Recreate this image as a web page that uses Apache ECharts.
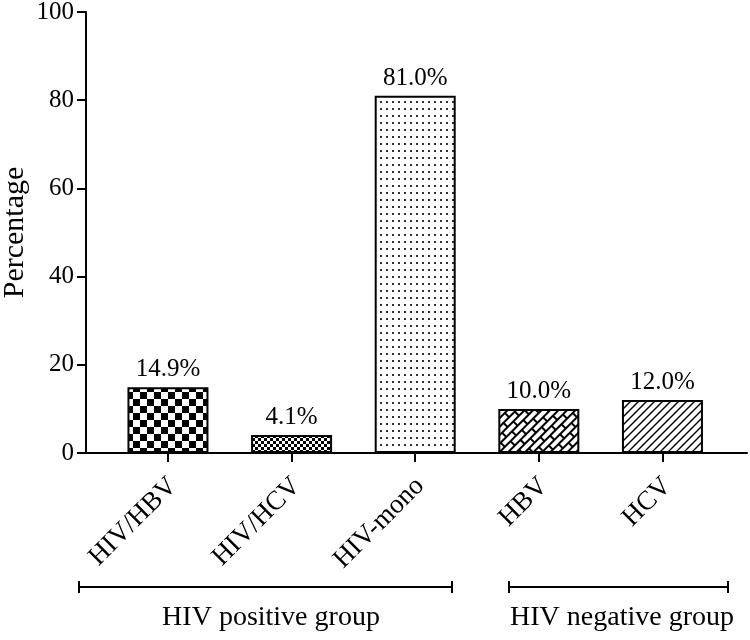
<!DOCTYPE html>
<html>
<head>
<meta charset="utf-8">
<script src="https://cdn.jsdelivr.net/npm/echarts@6/dist/echarts.min.js"></script>
<style>
  html, body { margin: 0; padding: 0; background: #fff; }
  #chart { width: 750px; height: 640px; }
</style>
</head>
<body>
<div id="chart"></div>
<script>
var categories = ["HIV/HBV", "HIV/HCV", "HIV-mono", "HBV", "HCV"];
var percentages = [14.9, 4.1, 81.0, 10.0, 12.0];
var yTicks = [0, 20, 40, 60, 80, 100];
var groups = ["HIV positive group", "HIV negative group"];

var FONT = "Liberation Serif, Times New Roman, serif";

// pattern tiles
function tile(w, h, draw) {
    var c = document.createElement("canvas");
    c.width = w;
    c.height = h;
    var ctx = c.getContext("2d");
    ctx.fillStyle = "#fff";
    ctx.fillRect(0, 0, w, h);
    draw(ctx);
    return c;
}

var bigChecker = tile(14, 14, function (ctx) {
    ctx.fillStyle = "#000";
    ctx.fillRect(0, 0, 7, 7);
    ctx.fillRect(7, 7, 7, 7);
});
var smallChecker = tile(6, 6, function (ctx) {
    ctx.fillStyle = "#000";
    ctx.fillRect(0, 0, 3, 3);
    ctx.fillRect(3, 3, 3, 3);
});
var dots = tile(6, 7, function (ctx) {
    ctx.fillStyle = "#333";
    ctx.fillRect(2, 3, 2, 2);
});
var bricks = tile(16, 12, function (ctx) {
    ctx.strokeStyle = "#000";
    ctx.lineWidth = 2;
    ctx.beginPath();
    ctx.moveTo(0, 1); ctx.lineTo(16, 1);
    ctx.moveTo(0, 7); ctx.lineTo(16, 7);
    ctx.moveTo(1, 0); ctx.lineTo(1, 7);
    ctx.moveTo(9, 7); ctx.lineTo(9, 12);
    ctx.stroke();
});
var hatch = tile(8, 8, function (ctx) {
    ctx.strokeStyle = "#000";
    ctx.lineWidth = 1.4;
    ctx.beginPath();
    ctx.moveTo(-1, 9); ctx.lineTo(9, -1);
    ctx.moveTo(-1, 1); ctx.lineTo(1, -1);
    ctx.moveTo(7, 9); ctx.lineTo(9, 7);
    ctx.stroke();
});

var fills = [
    { image: bigChecker, repeat: "repeat" },
    { image: smallChecker, repeat: "repeat" },
    { image: dots, repeat: "repeat" },
    { image: bricks, repeat: "repeat", rotation: -Math.PI / 4 },
    { image: hatch, repeat: "repeat" }
];

var barData = percentages.map(function (v, i) {
    return {
        value: [i, v],
        itemStyle: { color: fills[i] }
    };
});

var chart = echarts.init(document.getElementById("chart"), null, { renderer: "canvas" });

chart.setOption({
    animation: false,
    backgroundColor: "#fff",
    grid: { left: 86, right: 3, top: 12, bottom: 187, containLabel: false, outerBoundsMode: "none" },
    xAxis: {
        type: "value",
        min: -0.663,
        max: 4.684,
        splitLine: { show: false },
        axisLine: { show: true, onZero: false, lineStyle: { color: "#000", width: 2 } },
        axisTick: {
            show: true,
            customValues: [0, 1, 2, 3, 4],
            length: 9,
            lineStyle: { color: "#000", width: 2 }
        },
        axisLabel: {
            customValues: [0, 1, 2, 3, 4],
            rotate: 45,
            margin: 24,
            verticalAlign: "top",
            lineHeight: 14,
            color: "#000",
            fontFamily: FONT,
            fontSize: 27,
            formatter: function (v) { return categories[Math.round(v)]; }
        }
    },
    yAxis: {
        type: "value",
        min: 0,
        max: 100,
        interval: 20,
        name: "Percentage",
        nameLocation: "middle",
        nameGap: 56,
        nameMoveOverlap: false,
        nameTextStyle: { color: "#000", fontFamily: FONT, fontSize: 30 },
        splitLine: { show: false },
        axisLine: { show: true, onZero: false, lineStyle: { color: "#000", width: 2 } },
        axisTick: { show: true, length: 9, lineStyle: { color: "#000", width: 2 } },
        axisLabel: {
            color: "#000",
            fontFamily: FONT,
            fontSize: 25,
            margin: 12,
            formatter: function (v) { return yTicks.indexOf(v) >= 0 ? String(v) : ""; }
        }
    },
    series: [{
        type: "bar",
        barWidth: 81,
        data: barData,
        itemStyle: { borderColor: "#000", borderWidth: 2 },
        label: {
            show: true,
            position: "top",
            distance: 5,
            color: "#000",
            fontFamily: FONT,
            fontSize: 25,
            formatter: function (p) { return p.value[1].toFixed(1) + "%"; }
        }
    }],
    graphic: [
        {
            type: "polyline",
            shape: { points: [[79, 581], [79, 593], [79, 587], [452, 587], [452, 581], [452, 593]] },
            style: { stroke: "#000", lineWidth: 2, fill: null }
        },
        {
            type: "polyline",
            shape: { points: [[509, 581], [509, 593], [509, 587], [728, 587], [728, 581], [728, 593]] },
            style: { stroke: "#000", lineWidth: 2, fill: null }
        },
        {
            type: "text",
            x: 271, y: 632,
            style: { text: groups[0], fill: "#000", font: "28px " + FONT, textAlign: "center", textVerticalAlign: "bottom" }
        },
        {
            type: "text",
            x: 622, y: 632,
            style: { text: groups[1], fill: "#000", font: "28px " + FONT, textAlign: "center", textVerticalAlign: "bottom" }
        }
    ]
});
</script>
</body>
</html>
